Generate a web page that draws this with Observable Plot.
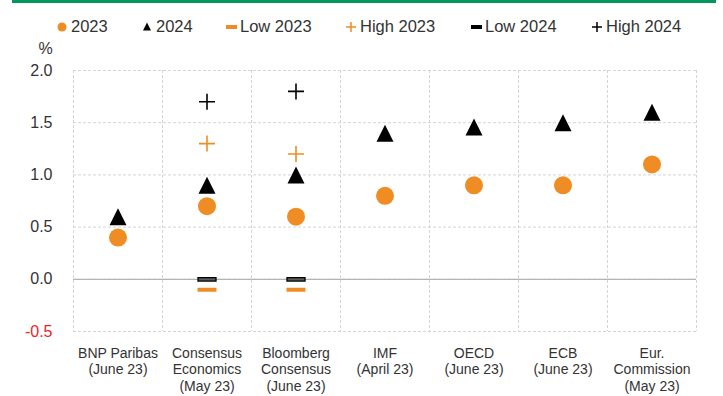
<!DOCTYPE html>
<html>
<head>
<meta charset="utf-8">
<script src="https://cdn.jsdelivr.net/npm/d3@7"></script>
<script src="https://cdn.jsdelivr.net/npm/@observablehq/plot@0.6"></script>
<style>
  body { margin: 0; background: #fff; font-family: "Liberation Sans", Arial, sans-serif; }
  #wrap { position: relative; width: 723px; height: 396px; }
  #topbar { position: absolute; left: 12px; top: 0; width: 704px; height: 3px; background: #00965e; }
  #legend { position: relative; height: 40px; }
  .item { position: absolute; top: 16px; font-size: 16.5px; color: #333; line-height: 20px; white-space: nowrap; }
  .item svg { position: absolute; top: 0; }
  #chart svg { display: block; }
</style>
</head>
<body>
<div id="wrap">
  <div id="topbar"></div>
  <div id="legend"></div>
  <div id="chart"></div>
</div>
<script>
// Euro-area GDP growth forecasts by source (%)
const categories = [
  "BNP Paribas\n(June 23)",
  "Consensus\nEconomics\n(May 23)",
  "Bloomberg\nConsensus\n(June 23)",
  "IMF\n(April 23)",
  "OECD\n(June 23)",
  "ECB\n(June 23)",
  "Eur.\nCommission\n(May 23)"
];
const f2023 = [0.4, 0.7, 0.6, 0.8, 0.9, 0.9, 1.1];
const f2024 = [0.6, 0.9, 1.0, 1.4, 1.46, 1.5, 1.6];
const low2023 = [null, -0.1, -0.1, null, null, null, null];
const high2023 = [null, 1.3, 1.2, null, null, null, null];
const low2024 = [null, 0.0, 0.0, null, null, null, null];
const high2024 = [null, 1.7, 1.8, null, null, null, null];
const yTicks = [-0.5, 0, 0.5, 1.0, 1.5, 2.0];

const orange = "#f08c24";
const ink = "#333";

// Marker shapes
const barSymbol = (w, h) => ({draw(ctx) { ctx.rect(-w / 2, -h / 2, w, h); }});
const triSymbol = (s) => ({draw(ctx) { ctx.moveTo(0, -s); ctx.lineTo(s, s); ctx.lineTo(-s, s); ctx.closePath(); }});
const plusSymbol = (s) => ({draw(ctx) { ctx.moveTo(-s, 0); ctx.lineTo(s, 0); ctx.moveTo(0, -s); ctx.lineTo(0, s); }});

const rows = (values) => values
  .map((v, i) => ({i: i + 0.5, v}))
  .filter((d) => d.v != null);

const chart = Plot.plot({
  width: 723,
  height: 356,
  marginTop: 30,
  marginLeft: 73,
  marginRight: 27,
  marginBottom: 65,
  style: {fontFamily: "'Liberation Sans', Arial, sans-serif", color: ink, background: "#fff"},
  x: {type: "linear", domain: [0, categories.length], axis: null},
  y: {domain: [-0.5, 2.0], axis: null},
  marks: [
    Plot.ruleY(yTicks, {stroke: "#d4d4d4", strokeDasharray: "3,2"}),
    Plot.ruleX(d3.range(categories.length + 1), {stroke: "#d4d4d4", strokeDasharray: "3,2"}),
    Plot.ruleY([0], {stroke: "#b4b4b4", strokeWidth: 1.2}),
    Plot.axisY(yTicks.filter((d) => d >= 0), {
      tickSize: 0, tickPadding: 21, fontSize: 16, fill: ink,
      tickFormat: (d) => d.toFixed(1), label: null
    }),
    Plot.axisY(yTicks.filter((d) => d < 0), {
      tickSize: 0, tickPadding: 21, fontSize: 16, fill: "#e8262a",
      tickFormat: (d) => d.toFixed(1), label: null
    }),
    Plot.axisX(categories.map((_, i) => i + 0.5), {
      tickSize: 0, tickPadding: 14, fontSize: 14, lineHeight: 1.21,
      fontFamily: "'Liberation Sans Narrow', 'Liberation Sans', sans-serif",
      fill: ink, tickFormat: (d) => categories[Math.floor(d)], label: null
    }),
    Plot.text(["%"], {frameAnchor: "top-left", textAnchor: "middle", lineAnchor: "middle", dx: -28, dy: -22, fontSize: 16, fill: ink}),
    Plot.dot(rows(low2023), {x: "i", y: "v", symbol: barSymbol(19, 4), fill: orange, r: 5}),
    Plot.dot(rows(low2024), {x: "i", y: "v", symbol: barSymbol(18, 3.5), fill: "#5a5a5a", stroke: "#000", strokeWidth: 1.3, r: 5}),
    Plot.dot(rows(high2023), {x: "i", y: "v", symbol: plusSymbol(8), fill: "none", stroke: orange, strokeWidth: 1.6, r: 5}),
    Plot.dot(rows(high2024), {x: "i", y: "v", symbol: plusSymbol(8), fill: "none", stroke: "#000", strokeWidth: 1.6, r: 5}),
    Plot.dot(rows(f2024), {x: "i", y: "v", symbol: triSymbol(8.5), fill: "#000", r: 5}),
    Plot.dot(rows(f2023), {x: "i", y: "v", r: 9, fill: orange})
  ]
});
document.getElementById("chart").append(chart);

// Legend above the chart
const legendItems = [
  {label: "2023", left: 57, shape: `<circle cx="5" cy="11" r="4.5" fill="${orange}"/>`},
  {label: "2024", left: 142, shape: `<path d="M5,6.5 L9,14.5 L1,14.5Z" fill="#000"/>`},
  {label: "Low 2023", left: 226, shape: `<rect x="0" y="9" width="11" height="4" fill="${orange}"/>`},
  {label: "High 2023", left: 346, shape: `<path d="M5,6 V16 M0,11 H10" stroke="${orange}" stroke-width="1.5" fill="none"/>`},
  {label: "Low 2024", left: 471, shape: `<rect x="0" y="9" width="11" height="4" fill="#000"/>`},
  {label: "High 2024", left: 592, shape: `<path d="M5,6 V16 M0,11 H10" stroke="#000" stroke-width="1.5" fill="none"/>`}
];
const legend = document.getElementById("legend");
for (const it of legendItems) {
  const el = document.createElement("div");
  el.className = "item";
  el.style.left = it.left + "px";
  el.innerHTML = `<svg width="12" height="22" style="left:0">${it.shape}</svg><span style="margin-left:14px">${it.label}</span>`;
  legend.append(el);
}
</script>
</body>
</html>
